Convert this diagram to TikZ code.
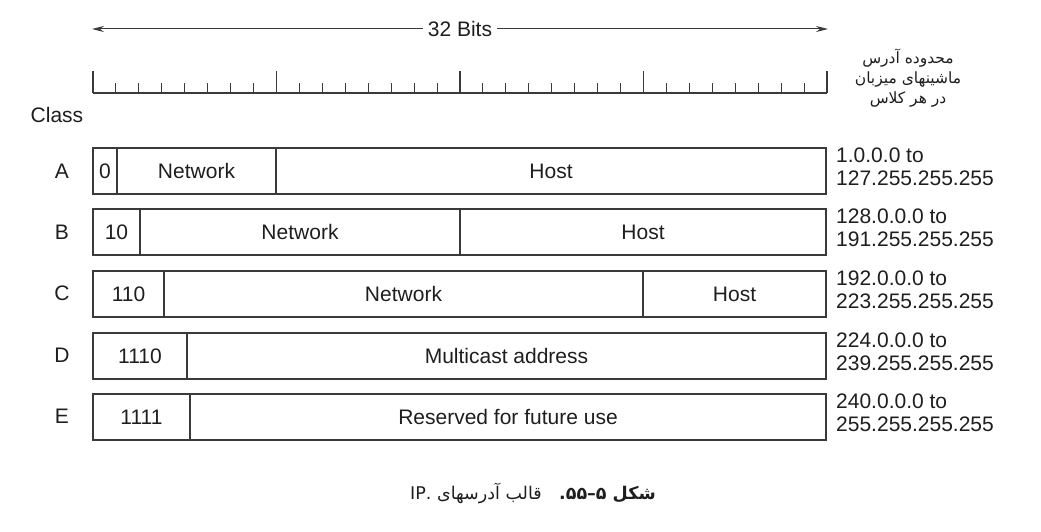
\documentclass[tikz,border=0pt]{standalone}
\usepackage{fontspec}
\setmainfont{Liberation Sans}
\newfontfamily\arabicfont[Script=Arabic]{DejaVu Sans}
\TeXXeTstate=1
\usetikzlibrary{arrows.meta}
\definecolor{ink}{HTML}{1E1E1E}
\definecolor{rulec}{HTML}{3A3A3A}
\begin{document}
\begin{tikzpicture}[x=1pt,y=-1pt,
  every node/.style={font=\fontsize{21}{23}\selectfont, text=ink},
  fieldbox/.style={draw=rulec, line width=1.1pt, inner sep=0pt, outer sep=0pt,
    minimum height=46pt, anchor=north west},
  rangetext/.style={anchor=west, align=left, inner sep=0pt},
  clslabel/.style={inner sep=0pt},
  bitarrow/.style={draw=rulec, line width=1pt, -{Stealth[length=12pt,width=6pt]}},
  rulerline/.style={draw=rulec, line width=1.1pt}]
\useasboundingbox (0,0) rectangle (1041,532);

% 32 bits arrow
\node[inner xsep=5pt] (bits) at (460,29) {32 Bits};
\coordinate (bl) at (92,29);
\coordinate (br) at (828,29);
\draw[bitarrow] (bits) -- (bl);
\draw[bitarrow] (bits) -- (br);

% ruler
\draw[rulerline] (93,93) -- (827,93);
\foreach \i in {0,...,32}{
  \pgfmathsetmacro{\xx}{93+\i*22.9375}
  \pgfmathtruncatemacro{\mj}{mod(\i,8)==0 ? 1 : 0}
  \ifnum\mj=1
    \draw[rulerline] (\xx,93) -- (\xx,71);
  \else
    \draw[rulerline] (\xx,93) -- (\xx,83);
  \fi
}

% heading at right
\node[align=center, font=\arabicfont\fontsize{15.5}{20}\selectfont] (hdr) at (908,78)
  {\beginR محدوده آدرس\endR\\\beginR ماشینهای میزبان\endR\\\beginR در هر کلاس\endR};

\node[clslabel] (class) at (57,115) {Class};

% class letters
\node[clslabel] (la) at (62,171) {A};
\node[clslabel] (lb) at (62,232) {B};
\node[clslabel] (lc) at (62,293) {C};
\node[clslabel] (ld) at (62,355) {D};
\node[clslabel] (le) at (62,416) {E};

% Class A
\node[fieldbox, minimum width=24] (a0) at (93,148) {0};
\node[fieldbox, minimum width=159] (an) at (117,148) {Network};
\node[fieldbox, minimum width=550] (ah) at (276,148) {Host};
% Class B
\node[fieldbox, minimum width=47] (b0) at (93,209) {10};
\node[fieldbox, minimum width=320] (bn) at (140,209) {Network};
\node[fieldbox, minimum width=366] (bh) at (460,209) {Host};
% Class C
\node[fieldbox, minimum width=71] (c0) at (93,271) {110};
\node[fieldbox, minimum width=479] (cn) at (164,271) {Network};
\node[fieldbox, minimum width=183] (ch) at (643,271) {Host};
% Class D
\node[fieldbox, minimum width=94] (d0) at (93,333) {1110};
\node[fieldbox, minimum width=639] (dn) at (187,333) {Multicast address};
% Class E
\node[fieldbox, minimum width=97] (e0) at (93,394) {1111};
\node[fieldbox, minimum width=636] (en) at (190,394) {Reserved for future use};

% ranges
\node[rangetext] (ra) at (836,167) {1.0.0.0 to\\127.255.255.255};
\node[rangetext] (rb) at (836,228) {128.0.0.0 to\\191.255.255.255};
\node[rangetext] (rc) at (836,290) {192.0.0.0 to\\223.255.255.255};
\node[rangetext] (rd) at (836,352) {224.0.0.0 to\\239.255.255.255};
\node[rangetext] (re) at (836,413) {240.0.0.0 to\\255.255.255.255};

% caption
\node[font=\arabicfont\fontsize{17.5}{20}\selectfont] (cap) at (533,493)
  {\beginR{\bfseries شکل ۵–۵۵.}\quad قالب آدرسهای \beginL IP.\endL\endR};
\end{tikzpicture}
\end{document}
